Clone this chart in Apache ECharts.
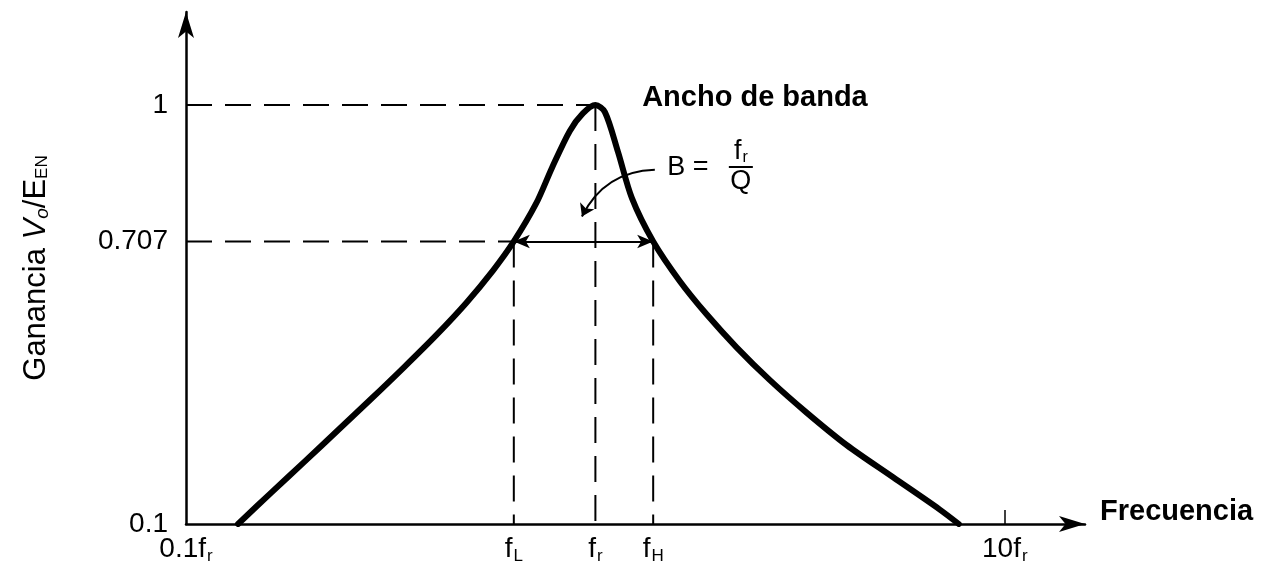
<!DOCTYPE html>
<html lang="es" style="height: 100%">
<head>
  <meta charset="utf-8">
</head>
<body style="height: 100%; margin: 0; background: #fff">
  <div id="container" style="width: 1281px; height: 575px"></div>

  <script type="text/javascript" src="https://cdn.jsdelivr.net/npm/echarts@6/dist/echarts.min.js"></script>

  <script type="text/javascript">
    // curva de respuesta (frecuencia relativa a fr, ganancia)
    const curveFreq = [0.134, 0.1613, 0.1948, 0.235, 0.2835, 0.3412, 0.4086, 0.4836, 0.5627, 0.632, 0.7166, 0.7831, 0.866, 0.932, 1.0,
                       1.055, 1.135, 1.228, 1.384, 1.608, 1.869, 2.212, 2.668, 3.28, 4.106, 5.336, 6.938, 7.72];
    const curveGain = [0.1, 0.167, 0.234, 0.3014, 0.369, 0.4372, 0.5058, 0.575, 0.645, 0.707, 0.7886, 0.865, 0.9445, 0.982, 1.0,
                       0.985, 0.9, 0.8, 0.707, 0.6216, 0.5505, 0.4796, 0.409, 0.3393, 0.2697, 0.2003, 0.131, 0.1];

    // frecuencias marcadas
    const fL = 0.632, fr = 1, fH = 1.384;
    const freqTicks = [0.1, fL, fr, fH, 10];
    const freqTickText = ['{n|0.1f}{s|r}', '{n|f}{s|L}', '{n|f}{s|r}', '{n|f}{s|H}', '{n|10f}{s|r}'];

    // niveles de ganancia
    const gainTicks = [0.1, 0.707, 1];
    const gainTickText = ['0.1', '0.707', '1'];

    // flecha curva desde el texto B = fr/Q hacia la banda
    const bArrowFrom = [1.397, 0.861];
    const bArrowTo = [0.927, 0.7605];

    // posiciones de los textos: "Ancho de banda", "B =", fr/Q
    const notePos = [[2.453, 1.015], [1.682, 0.865], [2.266, 0.867]];

    const FONT = "'Liberation Sans', Arial, Helvetica, sans-serif";
    const INK = '#000';

    var dom = document.getElementById('container');
    var myChart = echarts.init(dom, null, { renderer: 'canvas' });

    const dashed = { color: INK, width: 2, type: [26, 13] };
    function refLine(name, pts) {
      return {
        name: name,
        type: 'line',
        data: pts,
        symbol: 'none',
        silent: true,
        lineStyle: dashed,
        z: 2
      };
    }

    const subRich = {
      n: { fontSize: 28, fontFamily: FONT, color: INK },
      s: { fontSize: 17, fontFamily: FONT, color: INK, padding: [14, 0, 0, 1] }
    };

    function note(text, extra) {
      return Object.assign({
        show: true,
        position: [0, 0],
        align: 'center',
        verticalAlign: 'middle',
        formatter: text,
        fontFamily: FONT,
        color: INK,
        opacity: 1
      }, extra);
    }

    var option = {
      animation: false,
      grid: { left: 186, right: 196, top: 12, bottom: 51, containLabel: false, outerBoundsMode: 'none' },
      xAxis: {
        type: 'log',
        logBase: 10,
        min: 0.1,
        max: 15.7,
        name: 'Frecuencia',
        nameLocation: 'end',
        nameGap: 15,
        nameTextStyle: { fontSize: 29, fontWeight: 'bold', fontFamily: FONT, color: INK, verticalAlign: 'bottom', padding: [0, 0, -2, 0] },
        axisLine: { show: true, symbol: ['none', 'arrow'], symbolSize: [12, 26], lineStyle: { color: INK, width: 2.5 } },
        axisTick: { show: true, customValues: [10], inside: true, length: 14, lineStyle: { color: INK, width: 1.5 } },
        axisLabel: {
          customValues: freqTicks,
          margin: 10,
          formatter: function (v) {
            let best = 0;
            freqTicks.forEach(function (t, i) {
              if (Math.abs(Math.log10(t) - Math.log10(v)) < Math.abs(Math.log10(freqTicks[best]) - Math.log10(v))) best = i;
            });
            return freqTickText[best];
          },
          rich: subRich
        },
        splitLine: { show: false },
        minorTick: { show: false }
      },
      yAxis: {
        type: 'value',
        min: 0.1,
        max: 1.2,
        name: '{n|Ganancia }{i|V}{si|o}{n|/E}{s|EN}',
        nameLocation: 'middle',
        nameRotate: 90,
        nameGap: 134,
        nameTextStyle: {
          rich: {
            n: { fontSize: 31, fontFamily: FONT, color: INK },
            i: { fontSize: 31, fontFamily: FONT, color: INK, fontStyle: 'italic' },
            si: { fontSize: 19, fontFamily: FONT, color: INK, fontStyle: 'italic', padding: [13, 0, 0, 0] },
            s: { fontSize: 17, fontFamily: FONT, color: INK, padding: [13, 0, 0, 0] }
          }
        },
        axisLine: { show: true, onZero: false, symbol: ['none', 'arrow'], symbolSize: [12, 26], lineStyle: { color: INK, width: 2.5 } },
        axisTick: { show: false },
        axisLabel: {
          customValues: gainTicks,
          margin: 18,
          fontSize: 28,
          fontFamily: FONT,
          color: INK,
          formatter: function (v) {
            const i = gainTicks.findIndex(function (t) { return Math.abs(t - v) < 1e-6; });
            return i >= 0 ? gainTickText[i] : '';
          }
        },
        splitLine: { show: false }
      },
      series: [
        refLine('nivel 1', [[0.1, 1], [fr, 1]]),
        refLine('nivel 0.707', [[0.1, 0.707], [fL, 0.707]]),
        refLine('fL', [[fL, 0.707], [fL, 0.1]]),
        refLine('fr', [[fr, 1], [fr, 0.1]]),
        refLine('fH', [[fH, 0.707], [fH, 0.1]]),
        {
          name: 'Ganancia',
          type: 'line',
          data: curveFreq.map(function (f, i) { return [f, curveGain[i]]; }),
          symbol: 'none',
          smooth: 0.3,
          lineStyle: { color: INK, width: 6, cap: 'round', join: 'round' },
          z: 5,
          markLine: {
            silent: true,
            symbol: ['arrow', 'arrow'],
            symbolSize: [10, 16],
            label: { show: false },
            lineStyle: { color: INK, width: 2, type: 'solid' },
            data: [[{ coord: [fL, 0.707] }, { coord: [fH, 0.707] }]]
          }
        },
        {
          name: 'flecha B',
          type: 'lines',
          coordinateSystem: 'cartesian2d',
          symbol: ['none', 'arrow'],
          symbolSize: 12,
          silent: true,
          lineStyle: { color: INK, width: 2, curveness: -0.3, opacity: 1 },
          data: [{ coords: [bArrowFrom, bArrowTo] }],
          z: 6
        },
        {
          name: 'textos',
          type: 'scatter',
          symbolSize: 0,
          silent: true,
          itemStyle: { opacity: 1 },
          z: 7,
          data: [
            { value: notePos[0], label: note('Ancho de banda', { fontSize: 29, fontWeight: 'bold' }) },
            { value: notePos[1], label: note('B =', { fontSize: 27 }) },
            {
              value: notePos[2],
              label: note('{n|f}{s|r}\n{bar|}\n{n|Q}', {
                rich: {
                  n: { fontSize: 27, fontFamily: FONT, color: INK, align: 'center', lineHeight: 24 },
                  s: { fontSize: 16, fontFamily: FONT, color: INK, padding: [12, 0, 0, 1], lineHeight: 16 },
                  bar: { width: 24, height: 2, lineHeight: 6, backgroundColor: INK, align: 'center' }
                }
              })
            }
          ]
        }
      ]
    };

    myChart.setOption(option);
    window.addEventListener('resize', myChart.resize);
  </script>
</body>
</html>
